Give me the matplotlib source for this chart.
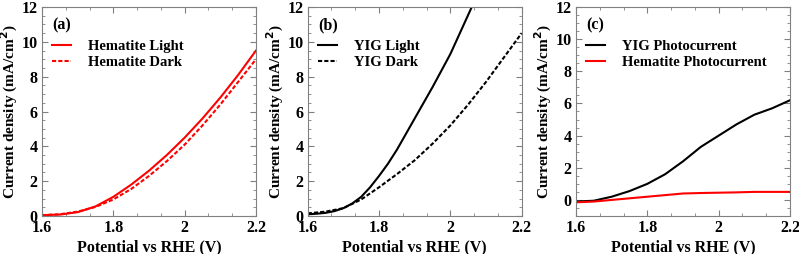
import numpy as np
import matplotlib.pyplot as plt
from matplotlib.ticker import MultipleLocator, AutoMinorLocator

plt.rcParams['font.family'] = ['Liberation Serif', 'DejaVu Serif']
plt.rcParams['font.weight'] = 'bold'

# ------------------------------------------------------------------
# DATI
# ------------------------------------------------------------------
v = [1.60, 1.65, 1.70, 1.75, 1.80, 1.85, 1.90, 1.95, 2.00, 2.05, 2.10, 2.15, 2.20]

hem_light = [0.05, 0.08, 0.22, 0.55, 1.1, 1.8, 2.6, 3.5, 4.5, 5.6, 6.8, 8.1, 9.5]
hem_dark  = [0.05, 0.10, 0.25, 0.52, 0.95, 1.55, 2.3, 3.15, 4.1, 5.2, 6.4, 7.7, 9.0]

v_yig_light = [1.60, 1.625, 1.65, 1.675, 1.70, 1.725, 1.75, 1.775, 1.80,
               1.825, 1.85, 1.875, 1.90, 1.95, 2.00, 2.06]
yig_light   = [0.1, 0.13, 0.18, 0.28, 0.45, 0.72, 1.1, 1.65, 2.3,
               3.0, 3.8, 4.7, 5.6, 7.4, 9.3, 12.0]
yig_dark    = [0.15, 0.25, 0.45, 0.95, 1.65, 2.4, 3.2, 4.15, 5.2, 6.4, 7.7, 9.1, 10.5]

yig_photo = [-0.1, -0.05, 0.2, 0.55, 1.0, 1.6, 2.4, 3.3, 4.0, 4.7, 5.3, 5.7, 6.2]
hem_photo = [-0.15, -0.1, 0.0, 0.1, 0.2, 0.3, 0.4, 0.43, 0.45, 0.47, 0.5, 0.5, 0.5]

# ------------------------------------------------------------------
# GRAFICO
# ------------------------------------------------------------------
fig = plt.figure(figsize=(7.99, 2.54), dpi=100)
lefts = [42 / 799, 307.7 / 799, 576 / 799]
axes = [fig.add_axes([l, 38 / 254, 214 / 799, 209 / 254]) for l in lefts]

ax = axes[0]
ax.plot(v, hem_light, "-", color="red", lw=1.5, label="Hematite Light")
ax.plot(v, hem_dark, "--", color="red", lw=1.5, dashes=(2, 1), label="Hematite Dark")
ax.set_ylim(0, 12)

ax = axes[1]
ax.plot(v_yig_light, yig_light, "-", color="black", lw=1.5, label="YIG Light")
ax.plot(v, yig_dark, "--", color="black", lw=1.5, dashes=(2, 1), label="YIG Dark")
ax.set_ylim(0, 12)

ax = axes[2]
ax.plot(v, yig_photo, "-", color="black", lw=1.5, label="YIG Photocurrent")
ax.plot(v, hem_photo, "-", color="red", lw=1.5, label="Hematite Photocurrent")
ax.set_ylim(-1, 12)

for ax, tag in zip(axes, ["(a)", "(b)", "(c)"]):
    ax.set_xlim(1.6, 2.2)
    ax.set_xticks([1.6, 1.8, 2.0, 2.2])
    ax.set_xticklabels(["1.6", "1.8", "2", "2.2"])
    ax.yaxis.set_major_locator(MultipleLocator(2))
    ax.xaxis.set_minor_locator(AutoMinorLocator(3))
    ax.yaxis.set_minor_locator(AutoMinorLocator(4))
    ax.tick_params(which="both", direction="in", top=True, right=True,
                   color="#808080", labelsize=11.5, pad=3)
    ax.tick_params(which="major", length=4)
    ax.tick_params(which="minor", length=2)
    for s in ax.spines.values():
        s.set_color("#808080")
    ax.set_xlabel("Potential vs RHE (V)", fontsize=11.5, fontweight="bold", labelpad=2)
    ax.set_ylabel("Current density (mA/cm$^\\mathbf{2}$)", fontsize=11,
                  fontweight="bold", labelpad=1)
    ax.text(0.05, 0.95, tag, transform=ax.transAxes, fontsize=11.5,
            fontweight="bold", va="top")
    ax.legend(loc="upper left", bbox_to_anchor=(0.0, 0.89), frameon=False,
              fontsize=10.5, handlelength=1.3, handletextpad=1.15,
              labelspacing=0.15, borderaxespad=0.3)

fig.savefig("out.png", dpi=100)
